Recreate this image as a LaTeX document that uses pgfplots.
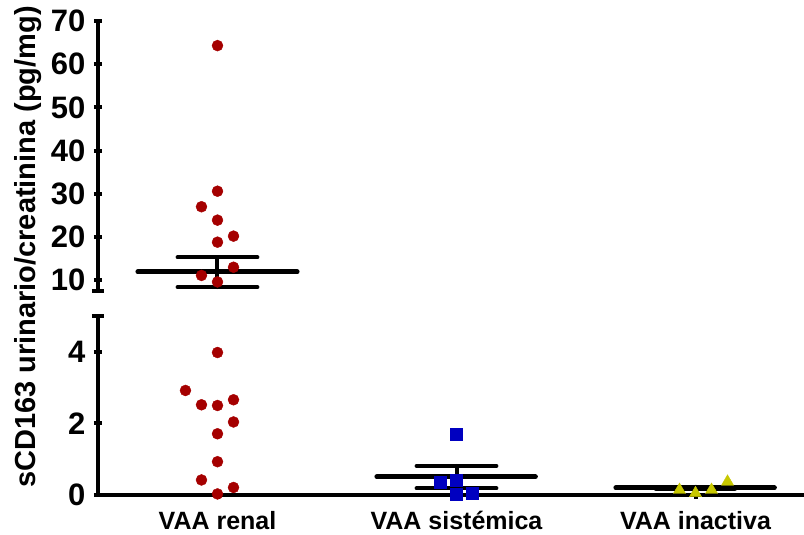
\documentclass[border=0pt]{standalone}
\usepackage{pgfplots}
\pgfplotsset{compat=1.18}
\usepackage{fontspec}
\setmainfont{Liberation Sans}
\definecolor{cred}{RGB}{165,0,0}
\definecolor{cblue}{RGB}{0,0,192}
\definecolor{cyel}{RGB}{200,200,0}
\begin{document}
\begin{tikzpicture}
\path[use as bounding box] (0,0) rectangle (804pt,535pt);
\pgfplotsset{
 common/.style={scale only axis, width=706pt, xmin=-0.5, xmax=2.454, clip=false,
   axis line style={line width=4pt},
   tick style={line width=4pt, black}, major tick length=8pt,
   tick align=outside, tick pos=left,
   yticklabel style={font=\fontsize{31}{31}\selectfont\bfseries, xshift=-5pt},
   /pgf/number format/assume math mode=true,
 },
 noarrows/.style={
   every outer x axis line/.append style={-},
   every outer y axis line/.append style={-},
   every inner x axis line/.append style={-},
   every inner y axis line/.append style={-},
 },
 meanline/.style={black, line width=5pt, line cap=round},
 errline/.style={black, line width=4pt, line cap=round},
}
% lower axis
\begin{axis}[common, at={(98pt,40pt)}, anchor=south west, height=179pt,
  ymin=0, ymax=5, axis x line=bottom, axis y line=left, noarrows,
  xtick={0,1,2}, xticklabels={VAA renal, VAA sistémica, VAA inactiva},
  xticklabel style={font=\fontsize{25}{25}\selectfont\bfseries, yshift=-9pt},
  ytick={0,2,4},
  extra y ticks={5}, extra y tick labels={},
  extra y tick style={tick align=center, major tick length=12pt},
]
\addplot[only marks, mark=*, mark size=5.5pt, cred] coordinates {
 (0,3.98) (-0.134,2.92) (-0.067,2.52) (0,2.5) (0.067,2.66) (0.067,2.04)
 (0,1.71) (0,0.93) (-0.067,0.42) (0.067,0.21) (0,0.03)};
\addplot[only marks, mark=square*, mark size=6pt, cblue] coordinates {
 (1,1.69) (0.933,0.37) (1,0.42) (1,0.03) (1.067,0.05)};
\addplot[only marks, mark=triangle*, mark size=7pt, cyel] coordinates {
 (1.933,0.14) (2,0.05) (2.067,0.14) (2.134,0.37)};
% sistemica mean +- SEM
\addplot[meanline] coordinates {(0.667,0.51) (1.33,0.51)};
\addplot[errline] coordinates {(1,0.19) (1,0.81)};
\addplot[errline] coordinates {(0.833,0.81) (1.167,0.81)};
\addplot[errline] coordinates {(0.833,0.19) (1.167,0.19)};
% inactiva mean +- SEM
\addplot[meanline] coordinates {(1.667,0.2) (2.33,0.2)};
\addplot[errline] coordinates {(2,0.17) (2,0.23)};
\addplot[errline] coordinates {(1.834,0.23) (2.165,0.23)};
\addplot[errline] coordinates {(1.834,0.17) (2.165,0.17)};
\end{axis}
% upper axis
\begin{axis}[common, at={(98pt,244pt)}, anchor=south west, height=270pt,
  ymin=7.5, ymax=70, axis x line=none, axis y line=left, noarrows,
  ytick={10,20,...,70},
  extra y ticks={7.5}, extra y tick labels={},
  extra y tick style={tick align=center, major tick length=12pt},
]
\addplot[only marks, mark=*, mark size=5.5pt, cred] coordinates {
 (0,64.3) (0,30.6) (-0.067,27.0) (0,23.9) (0.067,20.2) (0,18.8)
 (0.067,13.0) (-0.067,11.1) (0,9.6)};
\addplot[meanline] coordinates {(-0.333,11.9) (0.333,11.9)};
\addplot[errline] coordinates {(0,8.4) (0,15.3)};
\addplot[errline] coordinates {(-0.167,15.3) (0.167,15.3)};
\addplot[errline] coordinates {(-0.167,8.4) (0.167,8.4)};
\end{axis}
\node[rotate=90, font=\fontsize{29}{29}\selectfont\bfseries] at (28pt,288pt) {sCD163 urinario/creatinina (pg/mg)};
\end{tikzpicture}
\end{document}
